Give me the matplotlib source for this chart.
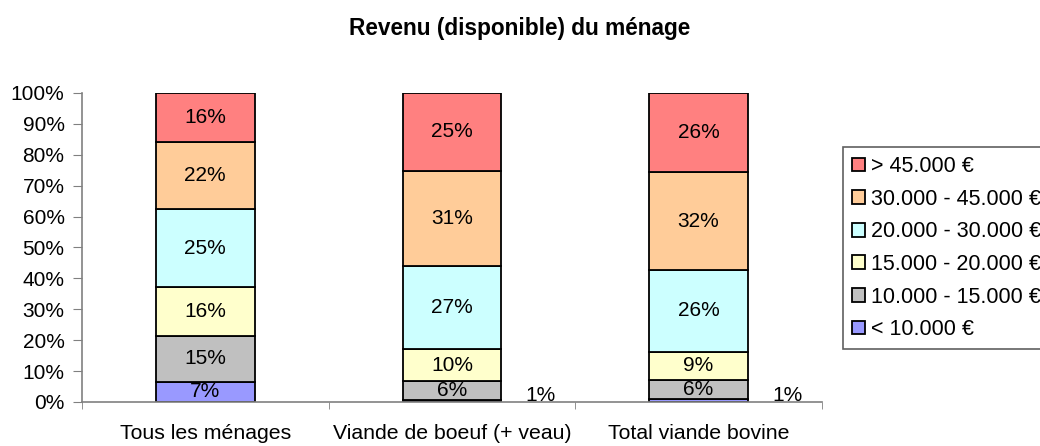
import numpy as np
from matplotlib import pyplot as plt
from matplotlib.ticker import PercentFormatter

categories = ["Tous les ménages", "Viande de boeuf (+ veau)", "Total viande bovine"]
series = ["< 10.000 €", "10.000 - 15.000 €", "15.000 - 20.000 €",
          "20.000 - 30.000 €", "30.000 - 45.000 €", "> 45.000 €"]
# shares per category, bottom to top (percent)
lt10 = [6.6, 0.8, 0.9]
s10_15 = [14.9, 6.0, 6.2]
s15_20 = [15.6, 10.3, 9.2]
s20_30 = [25.3, 26.9, 26.4]
s30_45 = [21.8, 30.8, 31.6]
gt45 = [15.8, 25.2, 25.7]
labels = [
    ["7%", "1%", "1%"],
    ["15%", "6%", "6%"],
    ["16%", "10%", "9%"],
    ["25%", "27%", "26%"],
    ["22%", "31%", "32%"],
    ["16%", "25%", "26%"],
]
colors = ["#9999FF", "#C0C0C0", "#FFFFCC", "#CCFFFF", "#FFCC99", "#FF8080"]

plt.rcParams['font.family'] = ['Liberation Sans', 'DejaVu Sans']
FS = 15

data = np.array([lt10, s10_15, s15_20, s20_30, s30_45, gt45])
x = np.arange(len(categories))

fig = plt.figure(figsize=(10.4, 4.46), dpi=100)
ax = fig.add_axes([0.0788, 0.0987, 0.7115, 0.6928])

bottom = np.zeros(len(categories))
handles = []
for k in range(len(series)):
    b = ax.bar(x, data[k], 0.4, bottom=bottom, color=colors[k],
               edgecolor='black', linewidth=1.3, label=series[k])
    handles.append(b)
    for i in range(len(categories)):
        if k == 0 and i > 0:
            # tiny segment: label set beside the bar
            ax.text(i + 0.36, 2.0, labels[k][i], ha='center', va='center', fontsize=FS)
        else:
            ax.text(i, bottom[i] + data[k][i] / 2, labels[k][i],
                    ha='center', va='center', fontsize=FS)
    bottom += data[k]

ax.set_xlim(-0.5, 2.5)
ax.set_ylim(0, 100)
ax.set_yticks(np.arange(0, 101, 10))
ax.yaxis.set_major_formatter(PercentFormatter(decimals=0))
ax.set_xticks(x)
ax.set_xticklabels(categories)
ax.set_xticks([-0.5, 0.5, 1.5, 2.5], minor=True)
ax.tick_params(axis='x', which='major', length=0, pad=16, labelsize=15.3)
ax.tick_params(axis='x', which='minor', length=5, color='#808080', direction='out')
ax.tick_params(axis='y', length=6.5, pad=6, color='#808080', labelsize=FS)

for s in ['top', 'right']:
    ax.spines[s].set_visible(False)
for s in ['left', 'bottom']:
    ax.spines[s].set_color('#808080')
    ax.spines[s].set_linewidth(1.2)

fig.suptitle("Revenu (disponible) du ménage", fontsize=16.3, fontweight='bold',
             x=0.5, y=0.963)

leg = fig.legend(handles[::-1], series[::-1], loc='upper left',
                 bbox_to_anchor=(843 / 1040, 1 - 147 / 446), fontsize=15.5, frameon=True,
                 fancybox=False, edgecolor='#606060', framealpha=1,
                 handlelength=0.6, handleheight=0.6, handletextpad=0.3,
                 labelspacing=0.54, borderpad=0.42, borderaxespad=0)
leg.get_frame().set_linewidth(1.2)

fig.savefig("out.png", dpi=100)
